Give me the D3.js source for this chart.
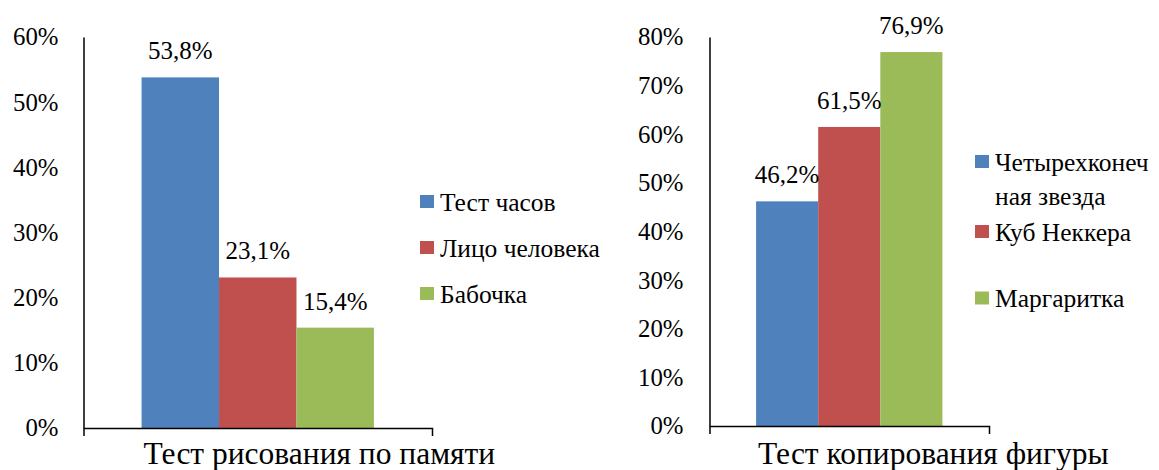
<!DOCTYPE html>
<html>
<head>
<meta charset="utf-8">
<script src="https://cdn.jsdelivr.net/npm/d3@7"></script>
<style>
	body { margin: 0; background: #fff; }
	svg { display: block; font-family: 'Liberation Serif', 'Times New Roman', serif; }
</style>
</head>
<body>
<svg></svg>
<script>
const width = 1159,
	height = 470;

// left chart data
const memoryCategory = [ 'Тест рисования по памяти' ];
const memorySeries = [ 'Тест часов', 'Лицо человека', 'Бабочка' ];
const memoryValues = [ 53.8, 23.1, 15.4 ];
const memoryTicks = [ 0, 10, 20, 30, 40, 50, 60 ];

// right chart data
const copyCategory = [ 'Тест копирования фигуры' ];
const copySeries = [ 'Четырехконечная звезда', 'Куб Неккера', 'Маргаритка' ];
const copyValues = [ 46.2, 61.5, 76.9 ];
const copyTicks = [ 0, 10, 20, 30, 40, 50, 60, 70, 80 ];

const colors = [ '#4F81BD', '#C0504D', '#9BBB59' ];

const svg = d3.select('svg').attr('width', width).attr('height', height);

function fmt(v) {
	return v.toFixed(1).replace('.', ',') + '%';
}

// break a legend label by characters so it fits into maxWidth
function wrapChars(textEl, str, maxWidth, lineHeight) {
	let line = '';
	let tspan = textEl.append('tspan').attr('x', textEl.attr('x')).attr('dy', 0);
	for (const ch of str) {
		tspan.text(line + ch);
		if (tspan.node().getComputedTextLength() > maxWidth && line.length > 0) {
			tspan.text(line);
			line = ch === ' ' ? '' : ch;
			tspan = textEl.append('tspan').attr('x', textEl.attr('x')).attr('dy', lineHeight).text(line);
		} else {
			line += ch;
		}
	}
}

function chart(opt) {
	const g = svg.append('g');
	let yScale = d3.scaleLinear().domain([ 0, d3.max(opt.ticks) ]).range([ opt.bottom, opt.top ]);
	let x0 = d3.scaleBand().domain(opt.category).range([ opt.left, opt.right ]).paddingInner(0).paddingOuter(0.25);
	let x1 = d3.scaleBand().domain(opt.series).range([ 0, x0.bandwidth() ]);

	let yAxis = d3.axisLeft(yScale).tickValues(opt.ticks).tickSize(0).tickPadding(opt.tickPad).tickFormat((d) => d + '%');
	let yg = g.append('g').attr('transform', 'translate(' + opt.left + ',0)').call(yAxis);
	yg.attr('font-family', null).attr('font-size', 24.8);
	yg.select('.domain').attr('stroke', '#000').attr('stroke-width', 1.5);
	yg.selectAll('text').attr('fill', '#000');

	g
		.selectAll('rect.bar')
		.data(opt.values)
		.enter()
		.append('rect')
		.attr('class', 'bar')
		.attr('x', (d, i) => x0(opt.category[0]) + x1(opt.series[i]))
		.attr('y', (d) => yScale(d))
		.attr('width', x1.bandwidth())
		.attr('height', (d) => opt.bottom - yScale(d))
		.attr('fill', (d, i) => colors[i]);

	let xAxis = d3.axisBottom(x0).tickSize(0).tickSizeOuter(8).tickFormat('');
	let xg = g.append('g').attr('transform', 'translate(0,' + opt.bottom + ')').call(xAxis);
	xg.select('.domain').attr('stroke', '#000').attr('stroke-width', 1.5);

	g
		.selectAll('text.val')
		.data(opt.values)
		.enter()
		.append('text')
		.attr('class', 'val')
		.attr('x', (d, i) => x0(opt.category[0]) + x1(opt.series[i]) + x1.bandwidth() / 2)
		.attr('y', (d) => yScale(d) - 18)
		.attr('text-anchor', 'middle')
		.attr('font-size', 25)
		.text((d) => fmt(d));

	g
		.append('text')
		.attr('x', x0(opt.category[0]) + 2)
		.attr('y', 464)
		.attr('font-size', 31.5)
		.text(opt.category[0]);

	// legend
	opt.series.forEach((s, i) => {
		let cy = opt.legendY[i];
		g
			.append('rect')
			.attr('x', opt.legendX)
			.attr('y', cy - 6.5)
			.attr('width', 14)
			.attr('height', 13)
			.attr('fill', colors[i]);
		let t = g.append('text').attr('x', opt.legendX + 20).attr('y', cy + 9).attr('font-size', 25.5);
		wrapChars(t, s, opt.legendMax, 34);
	});
}

chart({
	category: memoryCategory,
	series: memorySeries,
	values: memoryValues,
	ticks: memoryTicks,
	left: 83.5,
	right: 432,
	top: 37,
	bottom: 428,
	tickPad: 25,
	legendX: 420,
	legendY: [ 201.5, 247.5, 293.5 ],
	legendMax: 300
});

chart({
	category: copyCategory,
	series: copySeries,
	values: copyValues,
	ticks: copyTicks,
	left: 709.5,
	right: 989,
	top: 37,
	bottom: 426,
	tickPad: 26,
	legendX: 975,
	legendY: [ 161.5, 231.5, 298 ],
	legendMax: 162
});
</script>
</body>
</html>
